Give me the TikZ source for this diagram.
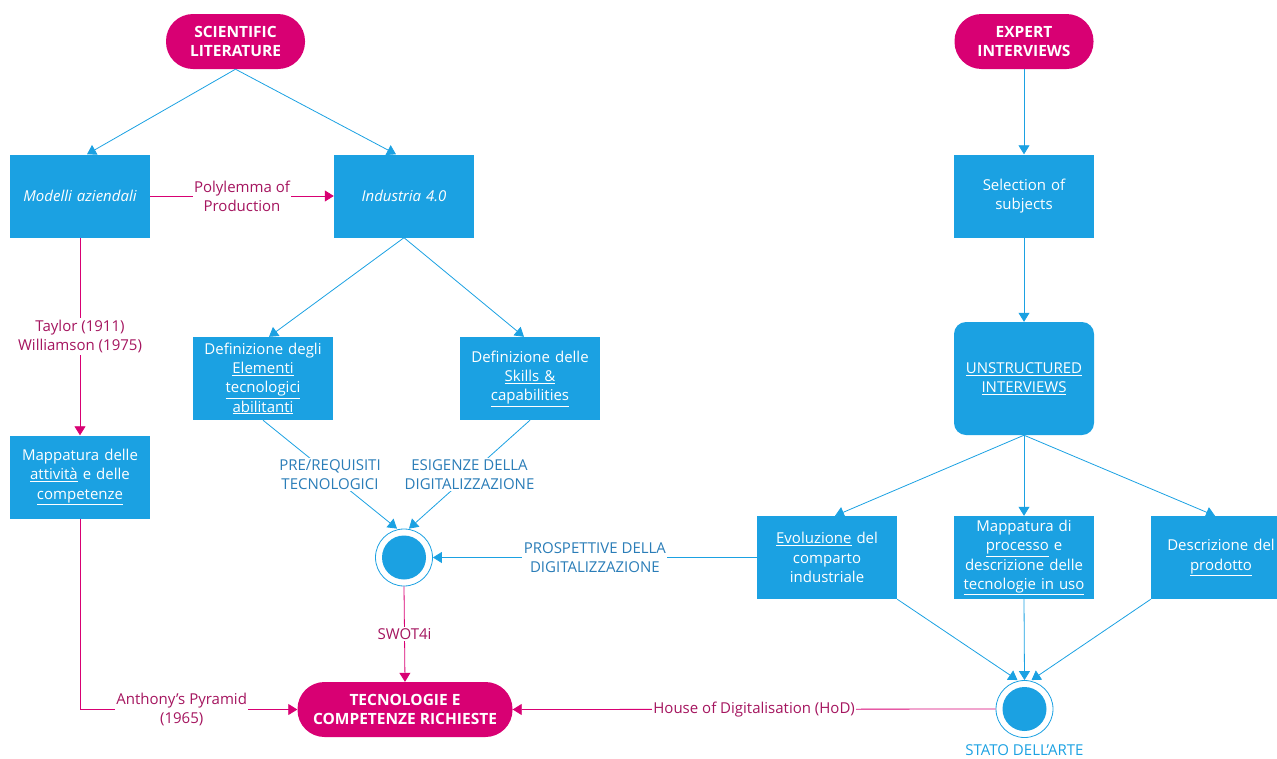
\documentclass[tikz,border=0pt]{standalone}
\usepackage{fontspec}
\setmainfont{Open Sans}
\usetikzlibrary{arrows.meta,calc}
\definecolor{boxblue}{HTML}{1BA1E2}
\definecolor{mag}{HTML}{D80073}
\definecolor{labmag}{HTML}{A5155F}
\definecolor{labblue}{HTML}{2A7DB8}
\tikzset{
  txt/.style={font=\fontsize{15}{19.3}\selectfont},
  pill/.style={txt, fill=mag, text=white, font=\fontsize{15.5}{18.5}\selectfont\bfseries,
    rounded corners=27pt, minimum width=139pt, minimum height=55pt, align=center, inner sep=0pt},
  box/.style={txt, fill=boxblue, text=white, text width=134pt, inner sep=3pt,
    minimum height=83pt, align=center},
  ring/.style={circle, draw=boxblue, fill=white, line width=0.8pt, minimum size=57pt, inner sep=0pt},
  dot/.style={circle, fill=boxblue, minimum size=44pt, inner sep=0pt},
  bflow/.style={draw=boxblue, line width=0.8pt, -{Triangle[length=9pt,width=11pt]}},
  mflow/.style={draw=mag, line width=0.8pt, -{Triangle[length=9pt,width=11pt]}},
  mlbl/.style={txt, fill=white, text=labmag, align=center, inner sep=1.5pt},
  blbl/.style={txt, fill=white, text=labblue, align=center, inner sep=1.5pt},
}
\begin{document}
\begin{tikzpicture}[x=1pt,y=-1pt]
\useasboundingbox (0,0) rectangle (1277,758);

% start / end points
\node[pill] (sl) at (235.5,41.5) {SCIENTIFIC\\LITERATURE};
\node[pill] (ei) at (1024,41.5) {EXPERT\\INTERVIEWS};
\node[pill, minimum width=215pt] (tec) at (405,709.5) {TECNOLOGIE E\\COMPETENZE RICHIESTE};

% literature branch
\node[box] (mod) at (80,196) {\itshape Modelli aziendali};
\node[box] (ind) at (404,196) {\itshape Industria 4.0};
\node[box] (dee) at (263,378.5) {Definizione degli\\\underline{Elementi}\\\underline{tecnologici}\\\underline{abilitanti}};
\node[box] (dsk) at (530,378.5) {Definizione delle\\\underline{Skills \&}\\\underline{capabilities}};
\node[box] (act) at (80,477) {Mappatura delle\\\underline{attività} e delle\\\underline{competenze}};

% interview branch
\node[box] (sel) at (1024,196) {Selection of\\subjects};
\node[box, rounded corners=12pt, minimum height=113pt] (uns) at (1024,378.5) {\underline{UNSTRUCTURED}\\\underline{INTERVIEWS}};
\node[box] (evo) at (827,557.5) {\underline{Evoluzione} del\\comparto\\industriale};
\node[box] (map) at (1024,557.5) {Mappatura di\\\underline{processo} e\\descrizione delle\\\underline{tecnologie in uso}};
\node[box] (des) at (1221,557.5) {Descrizione del\\\underline{prodotto}};

% merge states
\node[ring] (c1) at (404,557.5) {};
\node[dot] (c1i) at (c1) {};
\node[ring] (c2) at (1024.5,709) {};
\node[dot] (c2i) at (c2) {};
\node[txt, text=boxblue, inner sep=0pt] (stato) at (1024.5,750) {STATO DELL’ARTE};

% connectors
\draw[bflow] (sl.south) -- ($(mod.north)+(7,0)$);
\draw[bflow] (sl.south) -- ($(ind.north)+(-8,0)$);
\draw[mflow] (mod.east) -- node[mlbl]{Polylemma of\\Production} (ind.west);
\draw[mflow] (mod.south) -- node[mlbl]{Taylor (1911)\\Williamson (1975)} (act.north);
\draw[mflow] (act.south) |- node[mlbl, pos=0.734]{Anthony’s Pyramid\\(1965)} (tec.west);
\draw[bflow] (ind.south) -- ($(dee.north)+(6,0)$);
\draw[bflow] (ind.south) -- ($(dsk.north)+(-6,0)$);
\draw[bflow] (dee.south) -- node[blbl]{PRE/REQUISITI\\TECNOLOGICI} ($(c1.north)+(-7,0)$);
\draw[bflow] (dsk.south) -- node[blbl]{ESIGENZE DELLA\\DIGITALIZZAZIONE} ($(c1.north)+(5,0)$);
\draw[bflow] (evo.west) -- node[blbl]{PROSPETTIVE DELLA\\DIGITALIZZAZIONE} (c1.east);
\draw[mflow] (c1.south) -- node[mlbl]{SWOT4i} (tec.north);

\draw[bflow] (ei.south) -- (sel.north);
\draw[bflow] (sel.south) -- (uns.north);
\draw[bflow] (uns.south) -- ($(evo.north)+(8,0)$);
\draw[bflow] (uns.south) -- (map.north);
\draw[bflow] (uns.south) -- ($(des.north)+(-6,0)$);
\draw[bflow] (evo.south east) -- ($(c2.north)+(-7,0)$);
\draw[bflow] (map.south) -- (c2.north);
\draw[bflow] (des.south west) -- ($(c2.north)+(7,0)$);
\draw[mflow] (c2.west) -- node[mlbl]{House of Digitalisation (HoD)} (tec.east);
\end{tikzpicture}
\end{document}
